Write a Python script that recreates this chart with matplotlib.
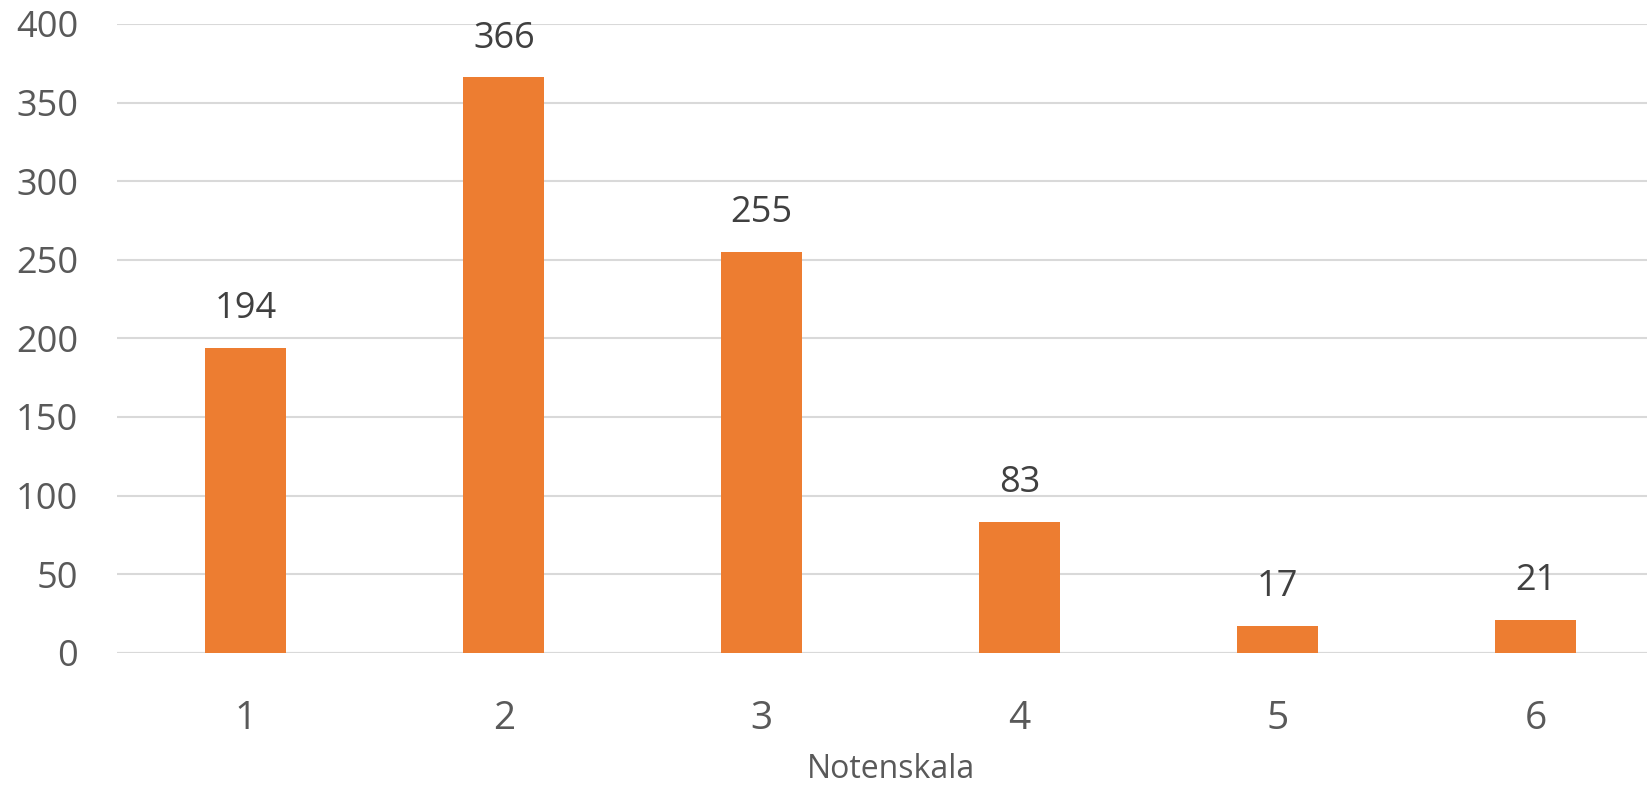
import matplotlib.pyplot as plt

plt.rcParams['font.family'] = ['Open Sans', 'DejaVu Sans']

grades = ['1', '2', '3', '4', '5', '6']
counts = [194, 366, 255, 83, 17, 21]
y_ticks = [0, 50, 100, 150, 200, 250, 300, 350, 400]

fig = plt.figure(figsize=(16.47, 7.89), dpi=100)
ax = fig.add_axes([0.0710, 0.1727, 0.9396, 0.7969])

pos = list(range(len(grades)))
ax.bar(pos, counts, width=0.314, color='#ED7D31', zorder=3)

for x, v in zip(pos, counts):
    ax.annotate(str(v), (x, v), xytext=(0, 28), textcoords='offset points',
                ha='center', va='center', fontsize=26, color='#404040')

ax.set_xlim(-0.5, 5.5)
ax.set_ylim(0, 400)
ax.set_yticks(y_ticks)
ax.set_xticks(pos)
ax.set_xticklabels(grades)
ax.yaxis.grid(True, color='#d9d9d9', linewidth=1.5, zorder=0)
for s in ['top', 'right', 'left', 'bottom']:
    ax.spines[s].set_visible(False)
ax.axhline(0, color='#d9d9d9', linewidth=1.5, zorder=2)
ax.tick_params(axis='y', length=0, pad=28, labelsize=26, labelcolor='#595959')
ax.tick_params(axis='x', length=0, pad=34, labelsize=28, labelcolor='#595959')
ax.set_xlabel('Notenskala', fontsize=23, color='#595959', labelpad=11)

fig.savefig('out.png', dpi=100)
